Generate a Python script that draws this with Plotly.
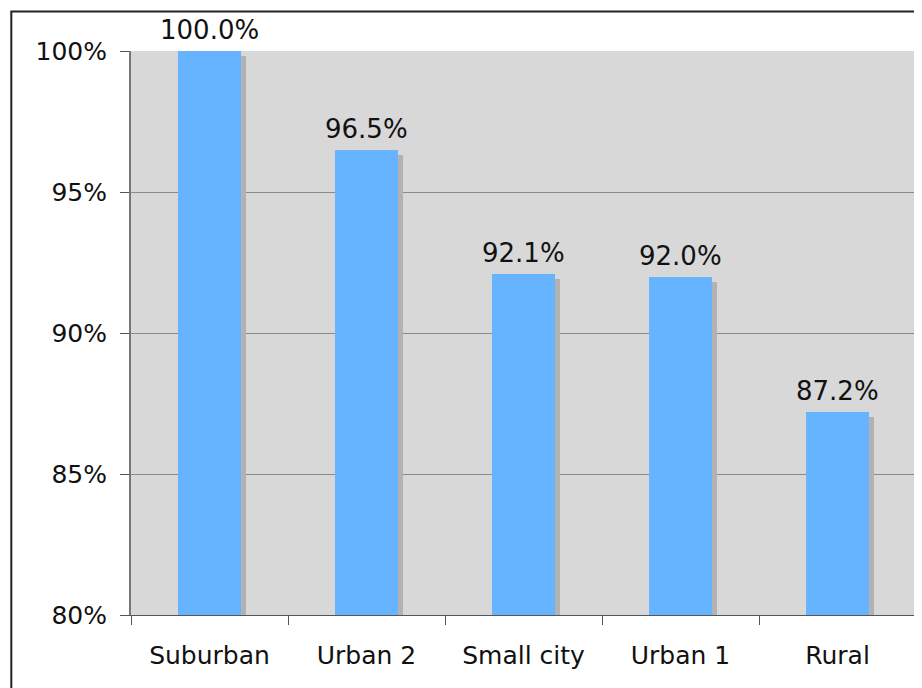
import plotly.graph_objects as go

categories = ["Suburban", "Urban 2", "Small city", "Urban 1", "Rural"]
values = [100.0, 96.5, 92.1, 92.0, 87.2]
value_labels = ["100.0%", "96.5%", "92.1%", "92.0%", "87.2%"]
y_ticks = [80, 85, 90, 95, 100]
y_tick_labels = ["80%", "85%", "90%", "95%", "100%"]

FONT = "DejaVu Sans"
bar_w = 0.4
shadow_dx = 0.03
shadow_dy = 0.18

fig = go.Figure()
# shadow
fig.add_trace(go.Bar(
    x=categories, y=[v - shadow_dy - 80 for v in values], base=80,
    width=bar_w, offset=-bar_w / 2 + shadow_dx,
    marker=dict(color="#b2b2b2", line=dict(width=0)),
    hoverinfo="skip", showlegend=False,
))
# bars
fig.add_trace(go.Bar(
    x=categories, y=[v - 80 for v in values], base=80,
    width=bar_w, offset=-bar_w / 2,
    marker=dict(color="#66b3ff", line=dict(width=0)),
    showlegend=False,
))

annotations = [
    dict(x=c, y=v, xref="x", yref="y", text=t, showarrow=False,
         yanchor="bottom", yshift=4,
         font=dict(family=FONT, size=26, color="#111"))
    for c, v, t in zip(categories, values, value_labels)
]

fig.update_layout(
    width=922, height=688,
    margin=dict(l=123, r=12, t=43, b=81),
    paper_bgcolor="white", plot_bgcolor="#d8d8d8",
    barmode="overlay", bargap=0,
    font=dict(family=FONT, size=25, color="#111"),
    annotations=annotations,
    xaxis=dict(
        type="category", tickson="boundaries", ticks="outside", ticklen=9,
        tickcolor="#555", tickwidth=1, showgrid=False,
        showline=True, linecolor="#555", linewidth=1, mirror=False,
        ticklabelstandoff=18, tickfont=dict(family=FONT, size=25),
    ),
    yaxis=dict(
        range=[80, 100], tickvals=y_ticks, ticktext=y_tick_labels,
        ticks="outside", ticklen=9, tickcolor="#555", tickwidth=1,
        showgrid=True, gridcolor="#8a8a8a", gridwidth=1,
        showline=True, linecolor="#777", linewidth=2, mirror=True,
        zeroline=False, ticklabelstandoff=8, tickfont=dict(family=FONT, size=25),
    ),
    shapes=[dict(
        type="rect", xref="paper", yref="paper",
        x0=-120 / 787, x1=1.2, y0=-0.3, y1=1 + 39.5 / 564,
        line=dict(color="#222", width=2), fillcolor="rgba(0,0,0,0)", layer="above",
    )],
)

fig.write_html("out.html")
